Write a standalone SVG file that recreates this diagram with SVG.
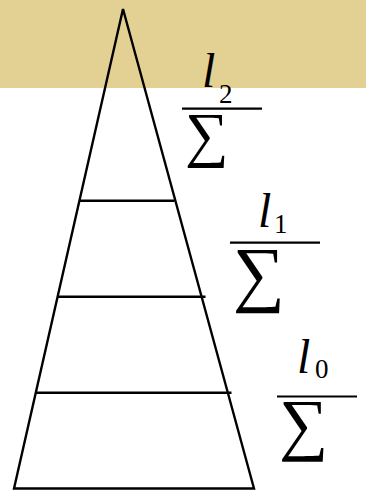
<svg xmlns="http://www.w3.org/2000/svg" width="366" height="497" viewBox="0 0 366 497">
<style>
.ln{stroke:#000;stroke-width:2.4;fill:none;stroke-linecap:butt}
.fr{stroke:#000;stroke-width:2.2}
.l{font-family:"Liberation Serif",serif;font-style:italic;font-size:48px;fill:#000}
.s{font-family:"Liberation Serif",serif;font-size:27px;fill:#000}
.sg{font-family:"Liberation Serif",serif;fill:#000}
</style>
<rect x="0" y="0" width="366" height="88" fill="#e3d194"/>
<g id="pyramid">
<path class="ln" d="M14,488.5 L123,9 L254,488.5 Z"/>
</g>
<g id="connectors">
<line class="ln" x1="79" y1="200.8" x2="174.5" y2="200.8"/>
<line class="ln" x1="58" y1="296.8" x2="205.5" y2="296.8"/>
<line class="ln" x1="36" y1="392.8" x2="231.5" y2="392.8"/>
</g>
<g id="label2">
<text class="l" x="202" y="87">l</text>
<text class="s" x="219" y="103">2</text>
<line class="fr" x1="182" y1="108.7" x2="262" y2="108.7"/>
<text class="sg" x="185" y="155" font-size="61">∑</text>
</g>
<g id="label1">
<text class="l" x="258" y="227">l</text>
<text class="s" x="274" y="233">1</text>
<line class="fr" x1="230" y1="242.7" x2="320" y2="242.7"/>
<text class="sg" x="233" y="298" font-size="73">∑</text>
</g>
<g id="label0">
<text class="l" x="297" y="373">l</text>
<text class="s" x="315" y="378">0</text>
<line class="fr" x1="277" y1="396.5" x2="357" y2="396.5"/>
<text class="sg" x="279" y="447" font-size="69">∑</text>
</g>
</svg>
